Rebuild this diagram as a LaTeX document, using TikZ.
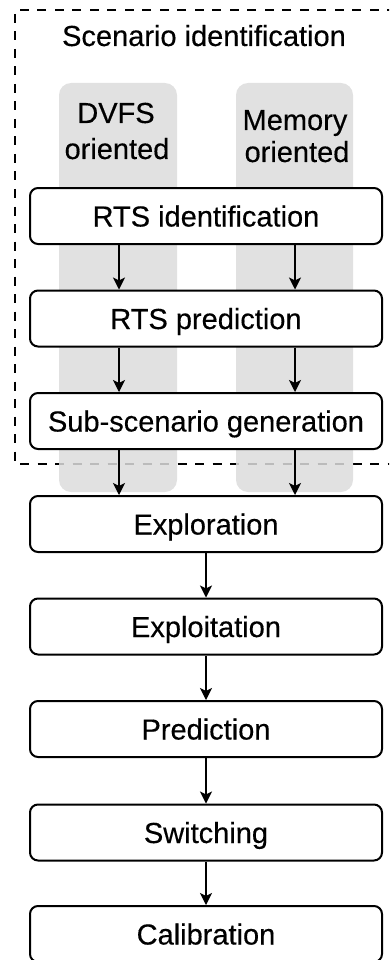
\documentclass[tikz,border=0pt]{standalone}
\usepackage{fontspec}
\setmainfont{Liberation Sans}[FakeBold=0.35]
\usetikzlibrary{arrows.meta}
\definecolor{colgray}{HTML}{DCDCDC}
\begin{document}
\begin{tikzpicture}[x=1pt,y=-1pt,
  stepbox/.style={draw=black, line width=2pt, rounded corners=8pt, fill=white,
    minimum width=352pt, minimum height=56pt, inner sep=0pt,
    font=\fontsize{29}{33}\selectfont, text height=21pt, text depth=0pt},
  flow/.style={line width=1.3pt, -{Stealth[length=12pt,width=12pt,inset=3pt]}},
  lbl/.style={inner sep=0pt, font=\fontsize{29}{34}\selectfont, align=center}]
\useasboundingbox (0,0) rectangle (389,960);
\clip (0,0) rectangle (389,960);
% dashed scenario frame
\draw[line width=2.3pt, dash pattern=on 9pt off 8.5pt] (396,10) -- (15,10) -- (15,464) -- (396,464);
% gray columns
\fill[colgray, fill opacity=0.85, rounded corners=12pt] (59,83) rectangle (177,492);
\fill[colgray, fill opacity=0.85, rounded corners=12pt] (236,83) rectangle (353,492);
% labels
\node[lbl, anchor=base] (title) at (204,46) {Scenario identification};
\node[lbl, anchor=base] (dvfs1) at (116,123) {DVFS};
\node[lbl, anchor=base] (dvfs2) at (117,159) {oriented};
\node[lbl, anchor=base] (mem1) at (295,130) {Memory};
\node[lbl, anchor=base] (mem2) at (297,162) {oriented};
% boxes
\node[stepbox] (rtsid) at (206,216) {RTS identification};
\node[stepbox] (rtspred) at (206,318.5) {RTS prediction};
\node[stepbox] (sub) at (206,421) {Sub-scenario generation};
\node[stepbox] (explor) at (206,524) {Exploration};
\node[stepbox] (exploit) at (206,626.5) {Exploitation};
\node[stepbox] (pred) at (206,729) {Prediction};
\node[stepbox] (switch) at (206,832.5) {Switching};
\node[stepbox] (calib) at (206,934) {Calibration};
% arrows, left and right columns
\foreach \a/\b in {rtsid/rtspred, rtspred/sub, sub/explor}{
  \draw[flow] (\a.south -| 119,0) -- (\b.north -| 119,0);
  \draw[flow] (\a.south -| 295,0) -- (\b.north -| 295,0);
}
% central arrows
\foreach \a/\b in {explor/exploit, exploit/pred, pred/switch, switch/calib}{
  \draw[flow] (\a.south) -- (\b.north);
}
\end{tikzpicture}
\end{document}
